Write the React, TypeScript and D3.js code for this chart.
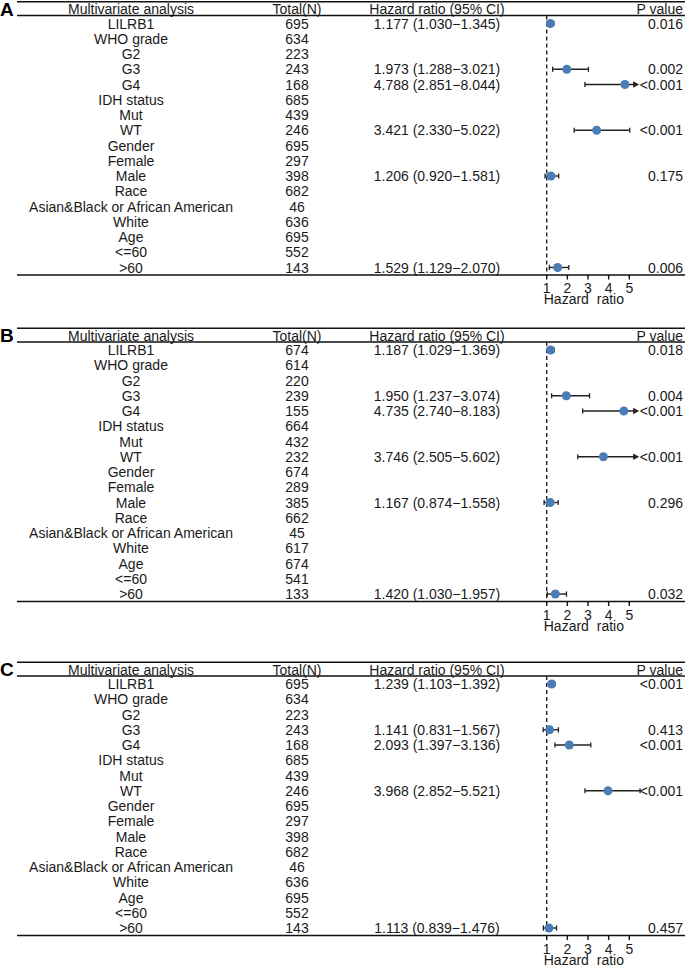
import React from "react";
import * as d3 from "d3";

const rowLabels = [
  "LILRB1", "WHO grade", "G2", "G3", "G4", "IDH status", "Mut", "WT",
  "Gender", "Female", "Male", "Race", "Asian&Black or African American",
  "White", "Age", "<=60", ">60",
];

const countsA = [695, 634, 223, 243, 168, 685, 439, 246, 695, 297, 398, 682, 46, 636, 695, 552, 143];
const countsB = [674, 614, 220, 239, 155, 664, 432, 232, 674, 289, 385, 662, 45, 617, 674, 541, 133];
const countsC = [695, 634, 223, 243, 168, 685, 439, 246, 695, 297, 398, 682, 46, 636, 695, 552, 143];

const N = null;
const hrA = [1.177, N, N, 1.973, 4.788, N, N, 3.421, N, N, 1.206, N, N, N, N, N, 1.529];
const loA = [1.030, N, N, 1.288, 2.851, N, N, 2.330, N, N, 0.920, N, N, N, N, N, 1.129];
const hiA = [1.345, N, N, 3.021, 8.044, N, N, 5.022, N, N, 1.581, N, N, N, N, N, 2.070];
const pA = ["0.016", "", "", "0.002", "<0.001", "", "", "<0.001", "", "", "0.175", "", "", "", "", "", "0.006"];

const hrB = [1.187, N, N, 1.950, 4.735, N, N, 3.746, N, N, 1.167, N, N, N, N, N, 1.420];
const loB = [1.029, N, N, 1.237, 2.740, N, N, 2.505, N, N, 0.874, N, N, N, N, N, 1.030];
const hiB = [1.369, N, N, 3.074, 8.183, N, N, 5.602, N, N, 1.558, N, N, N, N, N, 1.957];
const pB = ["0.018", "", "", "0.004", "<0.001", "", "", "<0.001", "", "", "0.296", "", "", "", "", "", "0.032"];

const hrC = [1.239, N, N, 1.141, 2.093, N, N, 3.968, N, N, N, N, N, N, N, N, 1.113];
const loC = [1.103, N, N, 0.831, 1.397, N, N, 2.852, N, N, N, N, N, N, N, N, 0.839];
const hiC = [1.392, N, N, 1.567, 3.136, N, N, 5.521, N, N, N, N, N, N, N, N, 1.476];
const pC = ["<0.001", "", "", "0.413", "<0.001", "", "", "<0.001", "", "", "", "", "", "", "", "", "0.457"];

const panelLetters = ["A", "B", "C"];
const headers = ["Multivariate analysis", "Total(N)", "Hazard ratio (95% CI)", "P value"];
const axisTicks = [1, 2, 3, 4, 5];
const axisTitle = "Hazard ratio";

const panels = [
  { letter: panelLetters[0], counts: countsA, hr: hrA, lo: loA, hi: hiA, p: pA, top: 0.5 },
  { letter: panelLetters[1], counts: countsB, hr: hrB, lo: loB, hi: hiB, p: pB, top: 327 },
  { letter: panelLetters[2], counts: countsC, hr: hrC, lo: loC, hi: hiC, p: pC, top: 661 },
];

const W = 685;
const H = 966;
const FONT = "'Liberation Sans', Arial, sans-serif";
const DOT = "#4a7db5";
const CLIP = 5.55;

const x = d3.scaleLinear().domain([1, 5]).range([546.7, 629.3]);
const xLabel = 131;
const xCount = 297;
const xHR = 437;
const xP = 683;
const ruleX0 = 17;
const pitch = 15.25;

function Panel({ panel }: { panel: typeof panels[number] }) {
  const top = panel.top;
  const hdrY = top + 8.5;
  const hdrLine = top + 15;
  const rowY = d3.scaleLinear().domain([0, rowLabels.length - 1]).range([top + 23, top + 23 + (rowLabels.length - 1) * pitch]);
  const bottom = rowY(rowLabels.length - 1) + 7.5;
  const fs = 14;
  const ink = "#1a1a1a";
  return (
    <g>
      <text x={0} y={top + 8.5} dy="0.36em" fontSize={19} fontWeight="bold" fontFamily={FONT}>{panel.letter}</text>
      <line x1={ruleX0} x2={W} y1={top + 1.2} y2={top + 1.2} stroke="#111" strokeWidth={1.6} />
      <line x1={ruleX0} x2={W} y1={hdrLine} y2={hdrLine} stroke="#111" strokeWidth={1.4} />
      <line x1={ruleX0} x2={W} y1={bottom} y2={bottom} stroke="#111" strokeWidth={1.6} />
      <text x={xLabel} y={hdrY} dy="0.36em" textAnchor="middle" fontSize={fs} fontFamily={FONT} fill={ink}>{headers[0]}</text>
      <text x={xCount} y={hdrY} dy="0.36em" textAnchor="middle" fontSize={fs} fontFamily={FONT} fill={ink}>{headers[1]}</text>
      <text x={xHR} y={hdrY} dy="0.36em" textAnchor="middle" fontSize={fs} fontFamily={FONT} fill={ink}>{headers[2]}</text>
      <text x={xP} y={hdrY} dy="0.36em" textAnchor="end" fontSize={fs} fontFamily={FONT} fill={ink}>{headers[3]}</text>
      <line x1={x(1)} x2={x(1)} y1={hdrLine} y2={bottom} stroke="#222" strokeWidth={1.4} strokeDasharray="4,3" />
      {rowLabels.map((lab, i) => {
        const y = rowY(i);
        const hr = panel.hr[i];
        const lo = panel.lo[i];
        const hi = panel.hi[i];
        return (
          <g key={i}>
            <text x={xLabel} y={y} dy="0.36em" textAnchor="middle" fontSize={fs} fontFamily={FONT} fill={ink}>{lab}</text>
            <text x={xCount} y={y} dy="0.36em" textAnchor="middle" fontSize={fs} fontFamily={FONT} fill={ink}>{panel.counts[i]}</text>
            {hr != null && lo != null && hi != null && (
              <g>
                <text x={xHR} y={y} dy="0.36em" textAnchor="middle" fontSize={fs} fontFamily={FONT} fill={ink}>
                  {`${hr.toFixed(3)} (${lo.toFixed(3)}\u2212${hi.toFixed(3)})`}
                </text>
                <line x1={x(lo)} x2={x(Math.min(hi, CLIP)) - (hi > CLIP ? 5 : 0)} y1={y} y2={y} stroke="#222" strokeWidth={1.4} />
                <line x1={x(lo)} x2={x(lo)} y1={y - 2.6} y2={y + 2.6} stroke="#222" strokeWidth={1.3} />
                {hi > CLIP ? (
                  <path d={`M${x(CLIP) - 1.5},${y} L${x(CLIP) - 7.5},${y - 3.2} L${x(CLIP) - 7.5},${y + 3.2} Z`} fill="#222" />
                ) : (
                  <line x1={x(hi)} x2={x(hi)} y1={y - 2.6} y2={y + 2.6} stroke="#222" strokeWidth={1.3} />
                )}
                <circle cx={x(hr)} cy={y} r={4.5} fill={DOT} />
              </g>
            )}
            {panel.p[i] && (
              <text x={xP} y={y} dy="0.36em" textAnchor="end" fontSize={fs} fontFamily={FONT} fill={ink}>{panel.p[i]}</text>
            )}
          </g>
        );
      })}
      {axisTicks.map((t) => (
        <g key={t}>
          <line x1={x(t)} x2={x(t)} y1={bottom} y2={bottom + 4.5} stroke="#111" strokeWidth={1.4} />
          <text x={x(t)} y={bottom + 13} dy="0.36em" textAnchor="middle" fontSize={fs} fontFamily={FONT} fill={ink}>{t}</text>
        </g>
      ))}
      <text x={x(2.8)} y={bottom + 24} dy="0.36em" textAnchor="middle" fontSize={fs} fontFamily={FONT} wordSpacing={4} fill={ink}>{axisTitle}</text>
    </g>
  );
}

export default function App() {
  return (
    <svg width={W} height={H} style={{ position: "absolute", left: 0, top: 0, background: "#fff" }}>
      <rect width={W} height={H} fill="#fff" />
      {panels.map((p) => (
        <Panel key={p.letter} panel={p} />
      ))}
    </svg>
  );
}
